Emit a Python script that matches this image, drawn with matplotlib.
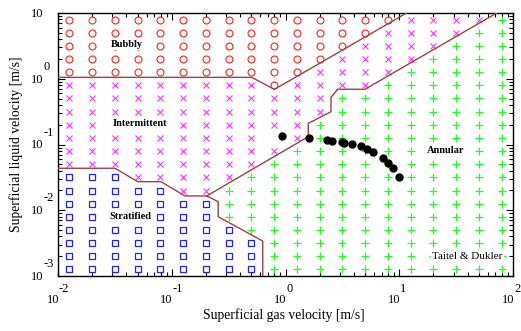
import matplotlib
matplotlib.use('Agg')
import matplotlib.pyplot as plt
from matplotlib.ticker import LogLocator, NullFormatter

plt.rcParams['font.family'] = ['Liberation Serif', 'DejaVu Serif']

# grid of map points, log10 of superficial velocity
gas_exp = [-1.9, -1.7, -1.5, -1.3, -1.1, -0.9, -0.7, -0.5, -0.3, -0.1,
           0.1, 0.3, 0.5, 0.7, 0.9, 1.1, 1.3, 1.5, 1.7, 1.9]
liq_exp = [0.9, 0.7, 0.5, 0.3, 0.1, -0.1, -0.3, -0.5, -0.7, -0.9,
           -1.1, -1.3, -1.5, -1.7, -1.9, -2.1, -2.3, -2.5, -2.7, -2.9]

# regime at each grid point, top row first
# o bubbly, x intermittent, s stratified, + annular, . nothing
regime_map = [
    "oooooooooooooooxxxx+",
    "ooooooooooooooxxxx++",
    "oooooooooooooxxxx+++",
    "ooooooooooooxxxx++++",
    "oooooooooooxxxx+++++",
    "xxxxxxxxxoxxxx++++++",
    "xxxxxxxxxxxx++++++++",
    "xxxxxxxxxxxx++++++++",
    "xxxxxxxxxxx+++++++++",
    "xxxxxxxxx.x+++++++++",
    "xxxxxxxxxx++++++++++",
    "xxxxxxxxx+++++++++++",
    "sssxxxxx++++++++++++",
    "sssssxx+++++++++++++",
    "sssssss+++++++++++++",
    "sssssss+++++++++++++",
    "ssssssss++++++++++++",
    "sssssssss+++++++++++",
    "sssssssss+++++++++++",
    "sssssssss+++++++++++",
]

# regime boundaries
bubbly_x = [0.01, 0.505, 0.80, 11.6]
bubbly_y = [1.05, 1.05, 0.69, 10.0]
strat_top_x = [0.01, 0.0317, 0.0502, 0.0803, 0.1306, 0.203]
strat_top_y = [0.0435, 0.0435, 0.0272, 0.0272, 0.0165, 0.0165]
strat_right_x = [0.203, 0.256, 0.256, 0.631, 0.631]
strat_right_y = [0.0165, 0.0135, 0.00798, 0.0034, 0.001]
annular_x = [0.203, 1.585, 1.585, 2.51, 2.51, 2.88, 5.0, 71.9]
annular_y = [0.0165, 0.1315, 0.210, 0.315, 0.522, 0.692, 0.692, 10.0]

# measured points
meas_x = [0.94, 1.62, 2.30, 2.58, 3.12, 3.27, 3.87, 4.58, 5.17, 5.92,
          7.24, 8.02, 8.87, 10.0]
meas_y = [0.135, 0.124, 0.117, 0.114, 0.110, 0.106, 0.1007, 0.0948, 0.0855,
          0.0761, 0.0616, 0.0528, 0.0435, 0.0317]

styles = {
    'o': dict(marker='o', ms=5, mfc='none', mec='#ff2020', mew=0.8),
    'x': dict(marker='x', ms=4, mec='#ff30ff', mew=0.8),
    's': dict(marker='s', ms=4.3, mfc='none', mec='#2020ff', mew=0.9),
    '+': dict(marker='+', ms=5.5, mec='#20ff20', mew=0.9),
}

fig = plt.figure(figsize=(5.21, 3.31), dpi=100)
ax = fig.add_axes([58 / 521, 1 - 276 / 331, 455 / 521, 263 / 331])
ax.set_xscale('log')
ax.set_yscale('log')
ax.set_xlim(1e-2, 1e2)
ax.set_ylim(1e-3, 1e1)

for key, st in styles.items():
    px, py = [], []
    for r, row in enumerate(regime_map):
        for c, ch in enumerate(row):
            if ch == key:
                px.append(10 ** gas_exp[c])
                py.append(10 ** liq_exp[r])
    ax.plot(px, py, ls='none', zorder=2, **st)

line_col = '#a04040'
for bx, by in [(bubbly_x, bubbly_y), (strat_top_x, strat_top_y),
               (strat_right_x, strat_right_y), (annular_x, annular_y)]:
    ax.plot(bx, by, color=line_col, lw=1, zorder=3)

ax.plot(meas_x, meas_y, 'o', color='black', ms=5, zorder=4)

box = dict(facecolor='white', edgecolor='none', pad=1)
for txt, tx, ty in [('Bubbly', 0.152, 0.882), ('Intermittent', 0.181, 0.578),
                    ('Stratified', 0.160, 0.226), ('Annular', 0.852, 0.477)]:
    ax.text(tx, ty, txt, transform=ax.transAxes, ha='center', va='center',
            fontsize=7.5, fontweight='bold', bbox=box, zorder=5)
ax.text(0.900, 0.074, 'Taitel & Dukler', transform=ax.transAxes,
        ha='center', va='center', fontsize=8, bbox=box, zorder=5)

ax.xaxis.set_minor_locator(LogLocator(base=10, subs=range(2, 10), numticks=20))
ax.yaxis.set_minor_locator(LogLocator(base=10, subs=range(2, 10), numticks=20))
ax.xaxis.set_minor_formatter(NullFormatter())
ax.yaxis.set_minor_formatter(NullFormatter())
ax.tick_params(which='both', direction='in', top=True, right=True,
               labelbottom=False, labelleft=False, width=0.8)
ax.tick_params(which='major', length=5)
ax.tick_params(which='minor', length=3)
for sp in ax.spines.values():
    sp.set_linewidth(1)

# tick labels drawn as 10 with raised exponent
for d in [-2, -1, 0, 1, 2]:
    ax.annotate('10', xy=(10.0 ** d, 0), xycoords=('data', 'axes fraction'),
                xytext=(1, -24), textcoords='offset pixels', ha='right',
                va='center', fontsize=9)
    ax.annotate(str(d), xy=(10.0 ** d, 0), xycoords=('data', 'axes fraction'),
                xytext=(1, -13), textcoords='offset pixels', ha='left',
                va='center', fontsize=9)
for d in [-3, -2, -1, 0, 1]:
    ax.annotate('10', xy=(0, 10.0 ** d), xycoords=('axes fraction', 'data'),
                xytext=(-15, -1), textcoords='offset pixels', ha='right',
                va='center', fontsize=9)
    # the top exponent falls outside the picture, as in the original
    if d < 1:
        ax.annotate(str(d), xy=(0, 10.0 ** d), xycoords=('axes fraction', 'data'),
                    xytext=(-14, 12), textcoords='offset pixels', ha='left',
                    va='center', fontsize=9)

fig.text(283.5 / 521, 1 - 315 / 331, 'Superficial gas velocity [m/s]',
         ha='center', va='center', fontsize=9.8)
fig.text(16 / 521, 1 - 144.5 / 331, 'Superficial liquid velocity [m/s]',
         ha='center', va='center', rotation=90, fontsize=9.8)

fig.savefig('out.png', dpi=100, facecolor='white')
